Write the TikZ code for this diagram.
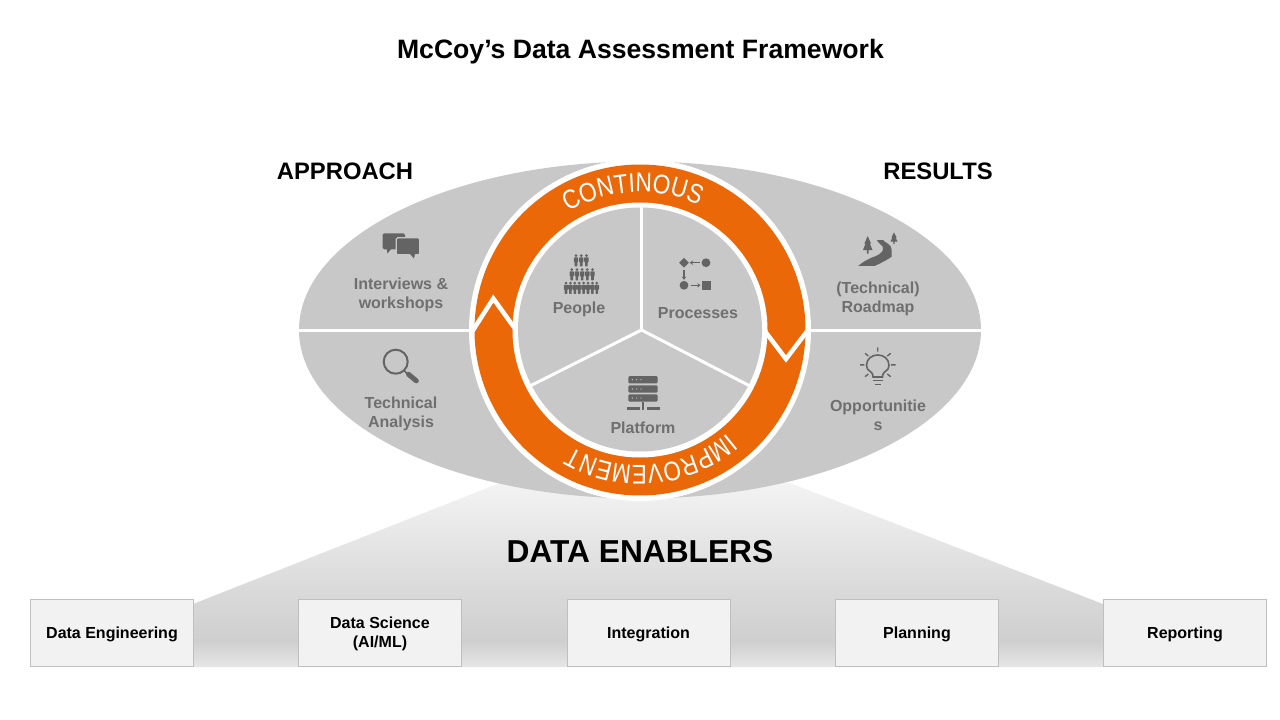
\documentclass[tikz,border=0pt]{standalone}
\usepackage{fontspec}
\setmainfont{Liberation Sans}
\newfontfamily\ringa[FakeStretch=0.84]{Liberation Sans}
\newfontfamily\ringb[FakeStretch=0.83]{Liberation Sans}
\usetikzlibrary{decorations.text,shapes.geometric,arrows.meta}
\definecolor{ellgrey}{HTML}{C8C8C8}
\definecolor{ringor}{HTML}{EB6809}
\definecolor{lab}{HTML}{6F6F6F}
\definecolor{ico}{HTML}{646464}
\definecolor{sa}{HTML}{E6E6E6}
\definecolor{sb}{HTML}{CFCFCF}
\definecolor{sc}{HTML}{D8D8D8}
\definecolor{sd}{HTML}{F3F3F3}
\pgfdeclareverticalshading{enab}{100bp}{color(0bp)=(sa); color(25bp)=(sa); color(32bp)=(sb); color(44bp)=(sc); color(75bp)=(sd); color(100bp)=(sd)}
\newcommand{\boxstrut}{\rule{0pt}{15bp}}
\tikzset{
  lbl/.style={font=\fontsize{16bp}{19bp}\selectfont\bfseries,text=lab,align=center,inner sep=0pt},
  head/.style={font=\fontsize{23.8bp}{28bp}\selectfont\bfseries,text=black,inner sep=0pt},
  ebox/.style={draw=black!25,line width=1bp,fill=black!5,minimum width=163bp,minimum height=67bp,inner sep=0pt,
    font=\fontsize{16bp}{19bp}\selectfont\bfseries,text=black,align=center},
  divider/.style={draw=white,line width=3bp},
  vee/.style={draw=white,line width=4.5bp,miter limit=10,line join=miter},
  icoline/.style={draw=ico,line width=1.8bp},
  icoarrow/.style={draw=ico,line width=1.2bp,-{Stealth[length=3.2bp,width=4.5bp]}}
}
\newcommand{\persona}[2]{%
  \fill[ico] (#1,#2+1.6) circle[radius=1.5];
  \fill[ico,rounded corners=0.6] (#1-2.2,#2+3.4) -- (#1+2.2,#2+3.4) -- (#1+2.2,#2+8) -- (#1+1.3,#2+8) -- (#1+1.3,#2+12.4) -- (#1-1.3,#2+12.4) -- (#1-1.3,#2+8) -- (#1-2.2,#2+8) -- cycle;
}
\begin{document}
\begin{tikzpicture}[x=1bp,y=-1bp]
\useasboundingbox (0,0) rectangle (1280,720);
\fill[white] (0,0) rectangle (1280,720);
% enablers shape
\shade[shading=enab] (193,604) -- (500,483) -- (790,483) -- (1103,604) -- (1103,667) -- (193,667) -- cycle;
% ellipse
\fill[ellgrey] (640,330) ellipse[x radius=341,y radius=168.5];
\draw[divider] (299,330) -- (981,330);
% ring
\fill[white] (640,330) circle[radius=171];
\fill[ringor] (640,330) circle[radius=165.5];
\fill[white] (640,330) circle[radius=127.5];
\fill[ellgrey] (640,329.5) circle[radius=122];
\draw[vee] (472.5,331) -- (493.3,298.5) -- (516,330);
\draw[vee] (764,330) -- (786,359) -- (808,330);
\draw[divider] (641.5,207) -- (641.5,330);
\draw[divider] (531,385.5) -- (641.5,330) -- (749,385.5);
% ring text
\path[decorate,decoration={text along path,text align=center,
   text={|\fontsize{27bp}{27bp}\ringa\color{white}|CONTINOUS}}]
   (640,330)+(-124:138) arc[start angle=-124,end angle=-62,radius=138];
\path[decorate,decoration={text along path,text align=center,
   text={|\fontsize{27bp}{27bp}\ringb\color{white}|IMPROVEMENT}}]
   (640,330)+(46:135.5) arc[start angle=46,end angle=124,radius=135.5];
% title & heads
\node[font=\fontsize{26.6bp}{30bp}\selectfont\bfseries,inner sep=0pt] (title) at (640.5,52) {McCoy’s Data Assessment Framework};
\node[head] (approach) at (345,171) {APPROACH};
\node[head] (results) at (938,171) {RESULTS};
\node[font=\fontsize{31.7bp}{36bp}\selectfont\bfseries,inner sep=0pt] (enablers) at (640,552) {DATA ENABLERS};
% labels
\node[lbl] (interviews) at (401,295) {Interviews \&\\workshops};
\node[lbl] (technical) at (401,414) {Technical\\Analysis};
\node[lbl] (roadmap) at (878,299) {(Technical)\\Roadmap};
\node[lbl] (opps) at (878,415) {Opportunitie\\s};
\node[lbl] (people) at (579,309.5) {People};
\node[lbl] (processes) at (698,313) {Processes};
\node[lbl] (platform) at (643,428) {Platform};
% boxes
\node[ebox] (b1) at (112,632.5) {\boxstrut Data Engineering};
\node[ebox] (b2) at (380,632.5) {\boxstrut Data Science\\(AI/ML)};
\node[ebox] (b3) at (648.5,632.5) {\boxstrut Integration};
\node[ebox] (b4) at (917,632.5) {\boxstrut Planning};
\node[ebox] (b5) at (1185,632.5) {\boxstrut Reporting};
% chat icon
\fill[ico,rounded corners=1.5] (382.7,233.3) rectangle (405,249.3);
\fill[ico] (386.5,248) -- (387.5,253.5) -- (392,248) -- cycle;
\filldraw[fill=ico,rounded corners=1.5,draw=ellgrey,line width=1.2bp] (396.2,237.8) rectangle (419.8,254.8);
\fill[ico] (410,254) -- (414,258.5) -- (415,254) -- cycle;
% magnifier
\draw[icoline,line width=2bp] (395.7,361.7) circle[radius=12];
\draw[ico,line width=1.6bp] (404,370.5) -- (408,374.5);
\draw[ico,line width=5bp,line cap=round] (408.5,374.3) -- (416.3,380.8);
% roadmap
\fill[ico] (858.3,265.8) .. controls (864,261) and (870,258) .. (876,256) .. controls (882,253.5) and (884,250) .. (882.7,246.7) .. controls (881.5,244) and (877.5,243) .. (877,240) -- (883,240) .. controls (885,243) and (891.7,244) .. (891.7,250) -- (891.7,256.7) .. controls (887,260) and (881,263) .. (875,265.8) -- cycle;
\fill[ico] (867.7,236) -- (871,243.5) -- (869.8,243.5) -- (872.5,250) -- (868.6,250) -- (868.6,253.5) -- (866.8,253.5) -- (866.8,250) -- (863,250) -- (865.6,243.5) -- (864.4,243.5) -- cycle;
\fill[ico] (894,232.3) -- (896.5,237.5) -- (895.6,237.5) -- (897.5,241.5) -- (894.7,241.5) -- (894.7,244.2) -- (893.3,244.2) -- (893.3,241.5) -- (890.5,241.5) -- (892.4,237.5) -- (891.5,237.5) -- cycle;
% bulb
\draw[icoline,line width=1.6bp] (873,377) .. controls (873,370) and (866.5,372) .. (866.5,365.5) .. controls (866.5,351.5) and (889,351.5) .. (889,365.5) .. controls (889,372) and (882.5,370) .. (882.5,377) -- cycle;
\draw[ico,line width=1.6bp] (872.5,380.3) -- (883,380.3);
\draw[ico,line width=1.6bp] (874.5,384.3) -- (881,384.3);
\draw[ico,line width=1.4bp] (877.7,347.3) -- (877.7,351.7)
  (860,364.8) -- (864.3,364.8) (891,364.8) -- (895.6,364.8)
  (865,353.3) -- (868.3,356) (890.7,353.3) -- (887.3,356)
  (865,376.7) -- (868.3,374) (890.7,376.7) -- (887.3,374);
% people
\foreach \px in {576,581.2,586.4} {\persona{\px}{254}}
\foreach \px in {571.7,576.9,582.1,587.3,592.5} {\persona{\px}{268}}
\foreach \px in {566,570.4,574.8,579.2,583.6,588,592.4,596.8} {\persona{\px}{281.5}}
% processes
\fill[ico] (684,257.8) -- (688.9,262.7) -- (684,267.6) -- (679.1,262.7) -- cycle;
\fill[ico] (706,262.7) circle[radius=4.4];
\draw[icoarrow] (699.5,262.7) -- (689.8,262.7);
\draw[icoarrow] (684,270) -- (684,279.8);
\fill[ico] (684,285.3) circle[radius=4.4];
\draw[icoarrow] (690.5,285.3) -- (700.5,285.3);
\fill[ico] (701.5,280.8) rectangle (710.7,290);
% server
\foreach \sy in {376,385.3,394.3} {
  \fill[ico,rounded corners=1.3] (628.3,\sy) rectangle (657.7,\sy+7.4);
  \foreach \sx in {632.3,636.7,641} {\fill[ellgrey] (\sx,\sy+3.7) circle[radius=0.7];}
}
\fill[ico] (642,401.5) rectangle (644.2,407);
\fill[ico] (626.7,407.2) rectangle (640,409.7);
\fill[ico] (641.9,407.2) rectangle (644.3,409.7);
\fill[ico] (646.7,407.2) rectangle (659.5,409.7);
\end{tikzpicture}
\end{document}
